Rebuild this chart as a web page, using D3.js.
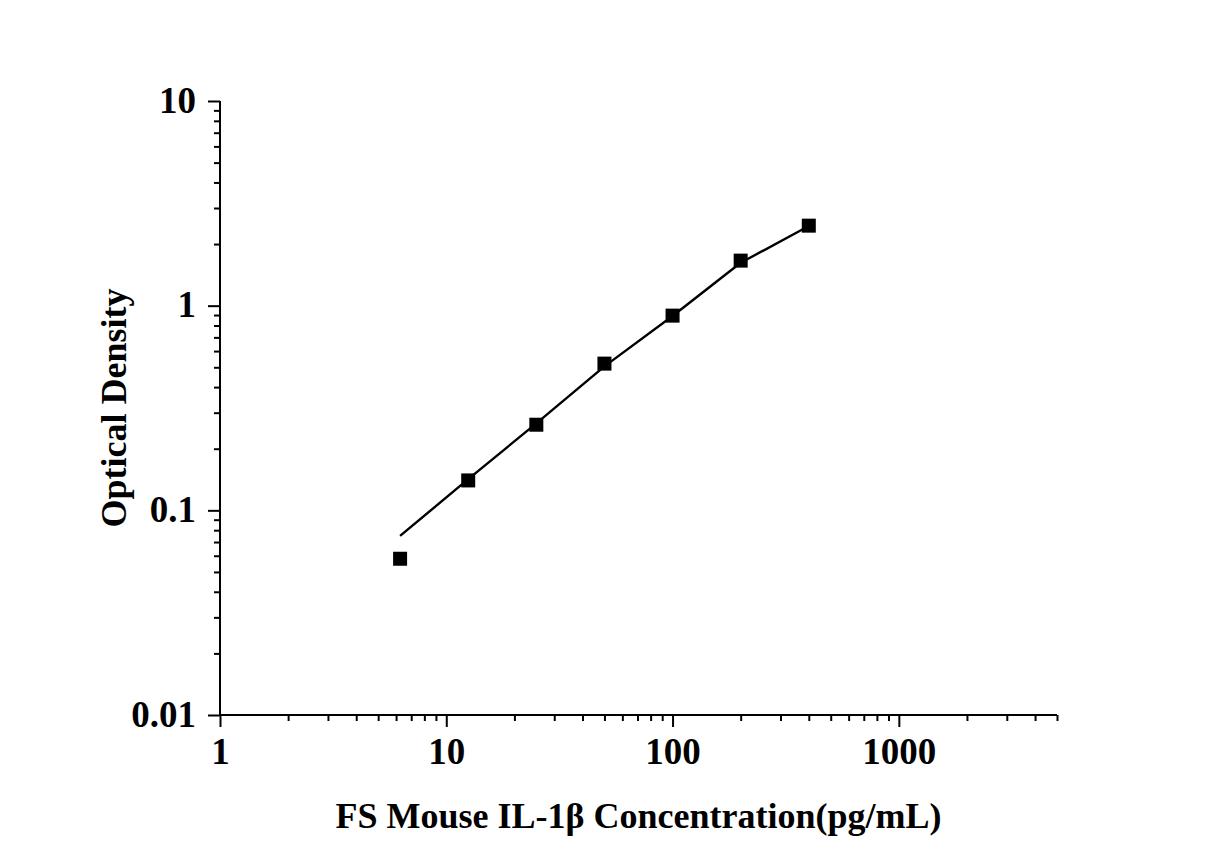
<!DOCTYPE html>
<html>
<head>
<meta charset="utf-8">
<script src="https://cdn.jsdelivr.net/npm/d3@7"></script>
<style>
  html, body { margin: 0; padding: 0; background: #fff; }
  svg { display: block; }
  text { font-family: "Liberation Serif", "Times New Roman", serif; font-weight: bold; fill: #000; }
</style>
</head>
<body>
<svg id="chart" width="1227" height="857"></svg>
<script>
// Data
const concentration = [6.25, 12.5, 25, 50, 100, 200, 400];
const opticalDensity = [0.058, 0.140, 0.262, 0.521, 0.894, 1.66, 2.46];
const fitConcentration = [6.25, 12.5, 25, 50, 100, 200, 400];
const fitDensity = [0.075, 0.142, 0.266, 0.505, 0.890, 1.62, 2.45];
const xTickLabels = [1, 10, 100, 1000];
const yTickLabels = [0.01, 0.1, 1, 10];
const xTitle = "FS Mouse IL-1\u03B2 Concentration(pg/mL)";
const yTitle = "Optical Density";

(function () {
const svg = d3.select("#chart");
const mLeft = 220, mRight = 1057, mTop = 101, mBottom = 715;

const x = d3.scaleLog().domain([1, 5000]).range([mLeft, mRight]);
const y = d3.scaleLog().domain([0.01, 10]).range([mBottom, mTop]);

function minorTicks(domain) {
  const out = [];
  for (let d = Math.floor(Math.log10(domain[0])); d <= Math.ceil(Math.log10(domain[1])); d++) {
    for (let m = 1; m <= 9; m++) {
      const v = m * Math.pow(10, d);
      if (v >= domain[0] * 0.9999 && v <= domain[1] * 1.0001) out.push(v);
    }
  }
  return out;
}
const isMajor = (arr) => (d) => arr.some(v => Math.abs(v - d) / v < 1e-6);

// X axis
const xAxis = d3.axisBottom(x)
  .tickValues(minorTicks(x.domain()))
  .tickSize(6)
  .tickFormat(() => "");
const gx = svg.append("g").attr("transform", `translate(0,${mBottom})`).call(xAxis);
const gxMaj = gx.selectAll(".tick").filter(isMajor(xTickLabels));
gxMaj.select("line").attr("y2", 12);
gxMaj.select("text")
  .text(d => d3.format("d")(d)).attr("y", 23).attr("dy", "0.71em")
  .style("font-size", "37px");
gx.select(".domain").attr("stroke-width", 2).attr("d", `M${mLeft},0H${mRight}`);
gx.selectAll(".tick line").attr("stroke-width", 2);

// Y axis
const yAxis = d3.axisLeft(y)
  .tickValues(minorTicks(y.domain()))
  .tickSize(6)
  .tickFormat(() => "");
const gy = svg.append("g").attr("transform", `translate(${mLeft},0)`).call(yAxis);
const gyMaj = gy.selectAll(".tick").filter(isMajor(yTickLabels));
gyMaj.select("line").attr("x2", -12);
gyMaj.select("text")
  .text(d => String(d)).attr("x", -24).attr("dy", "0.3em")
  .style("font-size", "37px");
gy.select(".domain").attr("stroke-width", 2).attr("d", `M0,${mBottom}V${mTop}`);
gy.selectAll(".tick line").attr("stroke-width", 2);

svg.selectAll(".domain, .tick line").attr("stroke", "#000");
svg.selectAll("g").attr("font-family", null).attr("font-size", null);

// Fit curve
const fitData = fitConcentration.map((c, i) => [c, fitDensity[i]]);
svg.append("path")
  .datum(fitData)
  .attr("fill", "none")
  .attr("stroke", "#000")
  .attr("stroke-width", 2.4)
  .attr("stroke-linejoin", "round")
  .attr("d", d3.line().x(d => x(d[0])).y(d => y(d[1])));

// Points
const pts = concentration.map((c, i) => [c, opticalDensity[i]]);
const s = 14;
svg.append("g").selectAll("rect").data(pts).join("rect")
  .attr("x", d => x(d[0]) - s / 2)
  .attr("y", d => y(d[1]) - s / 2)
  .attr("width", s).attr("height", s)
  .attr("fill", "#000");

// Titles
svg.append("text")
  .attr("x", (mLeft + mRight) / 2).attr("y", 828)
  .attr("text-anchor", "middle")
  .style("font-size", "36px")
  .text(xTitle);
svg.append("text")
  .attr("transform", `translate(126,${(mTop + mBottom) / 2}) rotate(-90)`)
  .attr("text-anchor", "middle")
  .style("font-size", "36px")
  .text(yTitle);
})();
</script>
</body>
</html>
